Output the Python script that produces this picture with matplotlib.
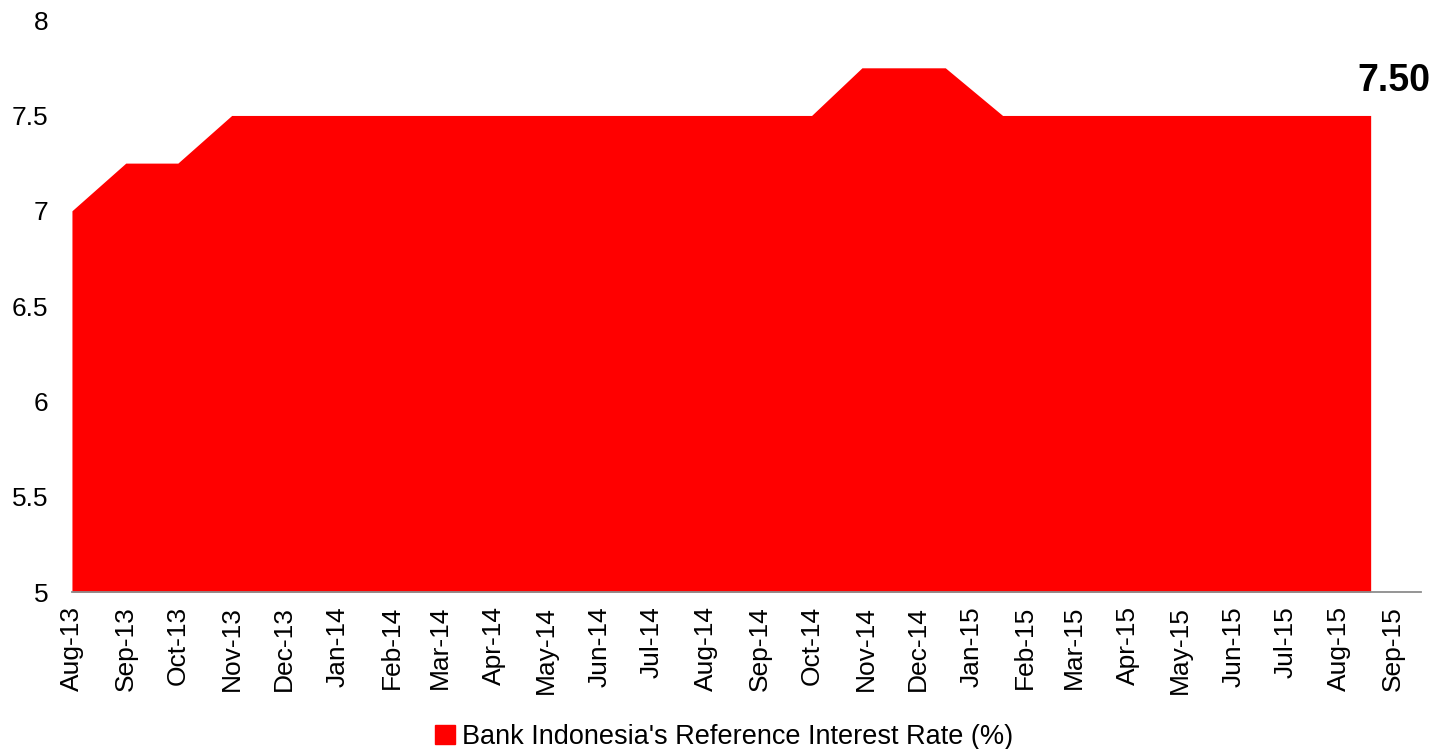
import numpy as np
import pandas as pd
import matplotlib
matplotlib.use("Agg")
import matplotlib.pyplot as plt
import matplotlib.dates as mdates
from matplotlib.ticker import FuncFormatter, MultipleLocator
from matplotlib.patches import Patch

plt.rcParams['font.family'] = ['Liberation Sans', 'DejaVu Sans']

# BI reference rate, points where the rate path changes
tanggal = pd.to_datetime([
    "2013-08-01", "2013-09-01", "2013-10-01", "2013-11-01",
    "2014-10-01", "2014-10-30", "2014-12-17", "2015-01-19", "2015-08-19",
])
bi_rate = [7.0, 7.25, 7.25, 7.5, 7.5, 7.75, 7.75, 7.5, 7.5]
nama_seri = "Bank Indonesia's Reference Interest Rate (%)"

fig = plt.figure(figsize=(14.39, 7.49), dpi=100)
ax = fig.add_axes([0.05, 0.2096, 0.9375, 0.7635])

ax.fill_between(tanggal, bi_rate, 5, color='#FF0000', linewidth=0)

ax.set_ylim(5, 8)
ax.set_xlim(pd.Timestamp("2013-08-01"), pd.Timestamp("2015-09-17"))
ax.yaxis.set_major_locator(MultipleLocator(0.5))
ax.yaxis.set_major_formatter(FuncFormatter(lambda v, p: f"{v:g}"))
ax.xaxis.set_major_locator(mdates.MonthLocator())
ax.xaxis.set_major_formatter(mdates.DateFormatter('%b-%y'))

ax.tick_params(axis='y', length=0, pad=17, labelsize=19)
ax.tick_params(axis='x', length=0, pad=10, labelsize=19, labelrotation=90)

for s in ['top', 'right', 'left']:
    ax.spines[s].set_visible(False)
ax.spines['bottom'].set_color('#8c8c8c')
ax.spines['bottom'].set_linewidth(1.3)

# label for the latest value
ax.annotate(f"{bi_rate[-1]:.2f}", xy=(tanggal[-1], bi_rate[-1]),
            xytext=(23, 24), textcoords='offset pixels',
            ha='center', va='baseline', fontsize=27, fontweight='bold',
            annotation_clip=False)

fig.legend(handles=[Patch(color='#FF0000', label=nama_seri)],
           loc='center', bbox_to_anchor=(0.503, 0.016), frameon=False,
           fontsize=19.5, handlelength=0.75, handleheight=0.75, handletextpad=0.25)

fig.savefig("out.png", dpi=100)
